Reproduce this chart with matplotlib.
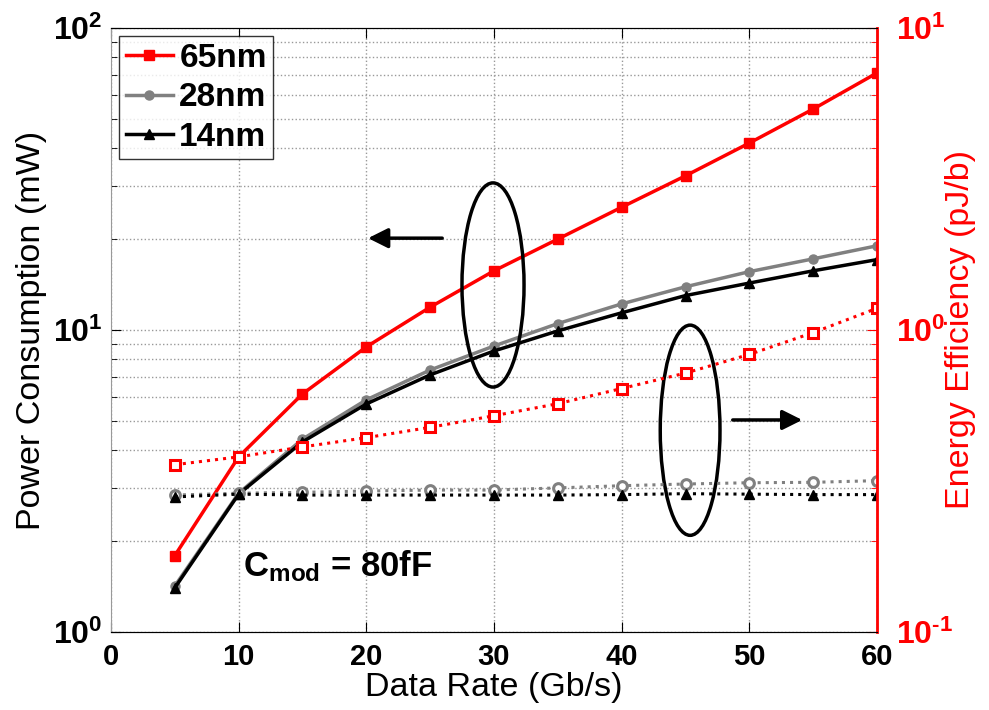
import matplotlib
matplotlib.use('Agg')
import matplotlib.pyplot as plt
from matplotlib.patches import Ellipse
from matplotlib.ticker import LogLocator, NullFormatter, FixedLocator

plt.rcParams['font.family'] = 'Liberation Sans'
plt.rcParams['mathtext.fontset'] = 'custom'
plt.rcParams['mathtext.rm'] = 'Liberation Sans:bold'
plt.rcParams['mathtext.bf'] = 'Liberation Sans:bold'
plt.rcParams['mathtext.it'] = 'Liberation Sans:bold'

# data
rate = [5, 10, 15, 20, 25, 30, 35, 40, 45, 50, 55, 60]  # Gb/s
p65 = [1.79, 3.80, 6.14, 8.79, 11.9, 15.7, 20.0, 25.5, 32.4, 41.6, 53.9, 71.0]  # mW
p28 = [1.42, 2.88, 4.35, 5.87, 7.37, 8.85, 10.5, 12.2, 13.9, 15.6, 17.2, 19.0]
p14 = [1.40, 2.86, 4.26, 5.69, 7.10, 8.52, 9.93, 11.4, 13.0, 14.3, 15.7, 17.1]
e65 = [0.358, 0.38, 0.41, 0.44, 0.476, 0.52, 0.57, 0.64, 0.72, 0.83, 0.98, 1.18]  # pJ/b
e28 = [0.284, 0.288, 0.29, 0.293, 0.295, 0.295, 0.30, 0.305, 0.309, 0.312, 0.313, 0.317]
e14 = [0.28, 0.286, 0.284, 0.284, 0.284, 0.284, 0.284, 0.285, 0.287, 0.286, 0.285, 0.285]
labels = ['65nm', '28nm', '14nm']

red = '#ff0000'
gray = '#808080'

fig = plt.figure(figsize=(9.89, 7.1), dpi=100)
ax = fig.add_axes([0.1122, 0.1099, 0.7746, 0.8507])
ax2 = ax.twinx()

ax.plot(rate, p65, '-s', color=red, lw=2.5, ms=6.5, label=labels[0], zorder=5)
ax.plot(rate, p28, '-o', color=gray, lw=2.5, ms=6.5, label=labels[1], zorder=4)
ax.plot(rate, p14, '-^', color='black', lw=2.5, ms=6.5, label=labels[2], zorder=5)

ax2.plot(rate, e65, ':s', color=red, lw=2.2, ms=7, mfc='white', mew=2.2)
ax2.plot(rate, e28, ':o', color=gray, lw=2.2, ms=7, mfc='white', mew=2.2)
ax2.plot(rate, e14, ':^', color='black', lw=2.2, ms=7)

ax.set_yscale('log')
ax2.set_yscale('log')
ax.set_xlim(0, 60)
ax.set_ylim(1, 100)
ax2.set_ylim(0.1, 10)
ax.set_xticks(range(0, 61, 10))
ax.set_xticklabels([str(v) for v in range(0, 61, 10)], fontweight='bold')
ax.yaxis.set_major_locator(FixedLocator([1, 10, 100]))
ax.set_yticklabels([r'$10^{0}$', r'$10^{1}$', r'$10^{2}$'])
ax.yaxis.set_minor_locator(LogLocator(base=10, subs=range(2, 10)))
ax.yaxis.set_minor_formatter(NullFormatter())
ax2.yaxis.set_major_locator(FixedLocator([0.1, 1, 10]))
ax2.set_yticklabels([r'$10^{\text{-}1}$', r'$10^{0}$', r'$10^{1}$'])
ax2.yaxis.set_minor_locator(LogLocator(base=10, subs=range(2, 10)))
ax2.yaxis.set_minor_formatter(NullFormatter())

ax.grid(True, which='major', axis='x', ls=':', color='#999999', lw=1)
ax.grid(True, which='both', axis='y', ls=':', color='#999999', lw=1)

ax.tick_params(axis='both', which='both', direction='in', top=True)
ax.tick_params(axis='x', which='major', length=7, labelsize=21, pad=8)
ax.tick_params(axis='y', which='major', length=7, labelsize=23, pad=6)
ax.tick_params(axis='y', which='minor', length=4)
ax2.tick_params(axis='y', which='both', direction='in', colors=red)
ax2.tick_params(axis='y', which='major', length=7, labelsize=23, pad=14)
ax2.tick_params(axis='y', which='minor', length=4)
ax2.spines['right'].set_color(red)
ax2.spines['right'].set_linewidth(2)
ax.spines['left'].set_color('#999999')
for s in ['top', 'bottom']:
    ax.spines[s].set_color('#333333')
ax2.spines['left'].set_visible(False)

ax.set_xlabel('Data Rate (Gb/s)', fontsize=24.5, labelpad=1)
ax.set_ylabel('Power Consumption (mW)', fontsize=24.5, labelpad=4)
ax2.set_ylabel('Energy Efficiency (pJ/b)', fontsize=24.5, color=red, labelpad=-6)

leg = ax.legend(loc='upper left', prop={'size': 24, 'weight': 'bold'}, frameon=True,
                fancybox=False, handlelength=1.4, borderpad=0.2, labelspacing=0.25,
                handletextpad=0.2, borderaxespad=0.25)
leg.get_frame().set_edgecolor('black')
leg.get_frame().set_linewidth(1)
leg.set_zorder(10)

ax2.add_patch(Ellipse((0.4987, 0.5745), 0.081, 0.338, transform=ax.transAxes,
                      fill=False, ec='black', lw=2.5))
ax2.add_patch(Ellipse((0.756, 0.334), 0.078, 0.348, transform=ax.transAxes,
                      fill=False, ec='black', lw=2.5))
ax2.annotate('', xy=(0.332, 0.652), xytext=(0.436, 0.652), xycoords='axes fraction',
             arrowprops=dict(arrowstyle='-|>', lw=2.5, color='black', mutation_scale=30))
ax2.annotate('', xy=(0.906, 0.351), xytext=(0.808, 0.351), xycoords='axes fraction',
             arrowprops=dict(arrowstyle='-|>', lw=2.5, color='black', mutation_scale=30))
ax2.text(0.172, 0.109, r'$\mathrm{C_{mod}}$ = 80fF', transform=ax.transAxes,
         fontsize=25, fontweight='bold', va='center', ha='left')

fig.savefig('out.png', dpi=100)
